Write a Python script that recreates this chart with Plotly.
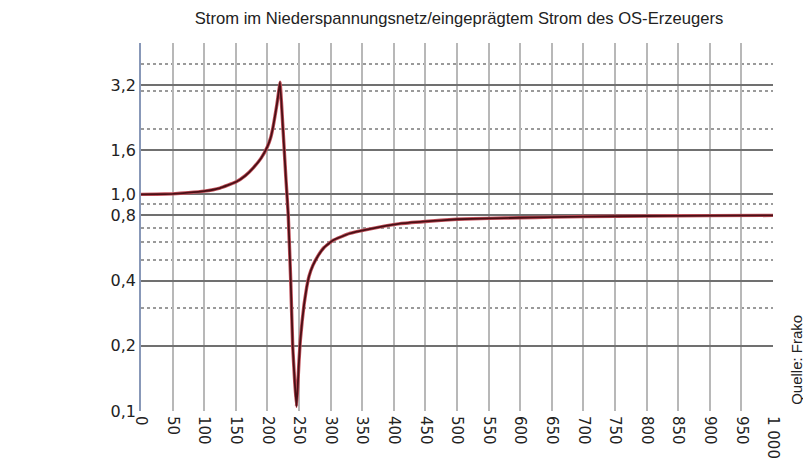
import plotly.graph_objects as go

# Data
freq = [0, 25, 50, 75, 100, 125, 150, 165, 178, 190, 200, 205, 209, 212, 215, 218, 220,
        224.7, 229.4, 233, 236.9, 240, 243, 246, 248, 250, 252, 255, 258, 262, 266, 272, 280,
        290, 304, 330, 357, 410, 450, 500, 550, 600, 650, 700, 800, 900, 1000]
ratio = [1.0, 1.002, 1.006, 1.018, 1.035, 1.07, 1.14, 1.22, 1.33, 1.47, 1.66, 1.82, 2.05, 2.3, 2.6, 3.0, 3.3,
         2.0, 1.17, 0.8, 0.4, 0.2, 0.14, 0.105, 0.13, 0.17, 0.21, 0.26, 0.31, 0.37, 0.42, 0.47, 0.52,
         0.57, 0.614, 0.66, 0.688, 0.733, 0.75, 0.768, 0.775, 0.78, 0.785, 0.79, 0.795, 0.798, 0.80]

x_ticks = list(range(0, 1001, 50))
x_tick_labels = [str(v) if v < 1000 else "1 000" for v in x_ticks]

y_major = [0.1, 0.2, 0.4, 0.8, 1.0, 1.6, 3.2, 5.0]
y_major_labels = ["0,1", "0,2", "0,4", "0,8", "1,0", "1,6", "3,2", ""]
y_minor = [0.3, 0.5, 0.6, 0.7, 0.9, 2.0, 3.0, 4.0]

title_text = "Strom im Niederspannungsnetz/eingeprägtem Strom des OS-Erzeugers"
source_text = "Quelle: Frako"

fig = go.Figure()
fig.add_trace(go.Scatter(x=freq, y=ratio, mode="lines",
                         line=dict(color="#c0505a", width=3.4, shape="spline", smoothing=0.3),
                         hoverinfo="skip", showlegend=False))
fig.add_trace(go.Scatter(x=freq, y=ratio, mode="lines",
                         line=dict(color="#4a1016", width=1.8, shape="spline", smoothing=0.3),
                         showlegend=False))

# The page body has an 8px margin, so the figure is sized/offset to compensate.
fig.update_layout(
    width=803, height=451,
    margin=dict(l=133, r=38, t=35, b=48, autoexpand=False),
    paper_bgcolor="white", plot_bgcolor="white",
    font=dict(family="DejaVu Sans, Verdana, sans-serif", size=15, color="#222"),
    title=dict(text=title_text, x=0.5617, xanchor="center", y=0.978, yanchor="middle",
               font=dict(family="Liberation Sans Narrow, Arial Narrow, sans-serif", size=16.6, color="#222")),
    xaxis=dict(range=[0, 1000], tickmode="array", tickvals=x_ticks, ticktext=x_tick_labels,
               tickangle=90, showgrid=True, gridcolor="#b8b8b8", gridwidth=1.5,
               zeroline=False, showline=False, ticks="", ticklabelstandoff=4,
               automargin=False, tickfont=dict(size=15)),
    yaxis=dict(type="log", range=[-1, 0.69897], tickmode="array", tickvals=y_major,
               ticktext=y_major_labels, showgrid=True, gridcolor="#707070", gridwidth=2,
               zeroline=False, showline=True, linecolor="#8898b8", linewidth=1.5,
               ticks="", automargin=False, tickfont=dict(size=16),
               minor=dict(tickmode="array", tickvals=y_minor, showgrid=True,
                          gridcolor="#9a9a9a", gridwidth=1.5, griddash="dot")),
    annotations=[dict(text=source_text, xref="paper", yref="paper", x=1.0, xshift=24,
                      y=0.139, xanchor="center", yanchor="middle", textangle=-90, showarrow=False,
                      font=dict(family="Liberation Sans, Arial, sans-serif", size=15, color="#222"))],
)

fig.write_html("out.html")
